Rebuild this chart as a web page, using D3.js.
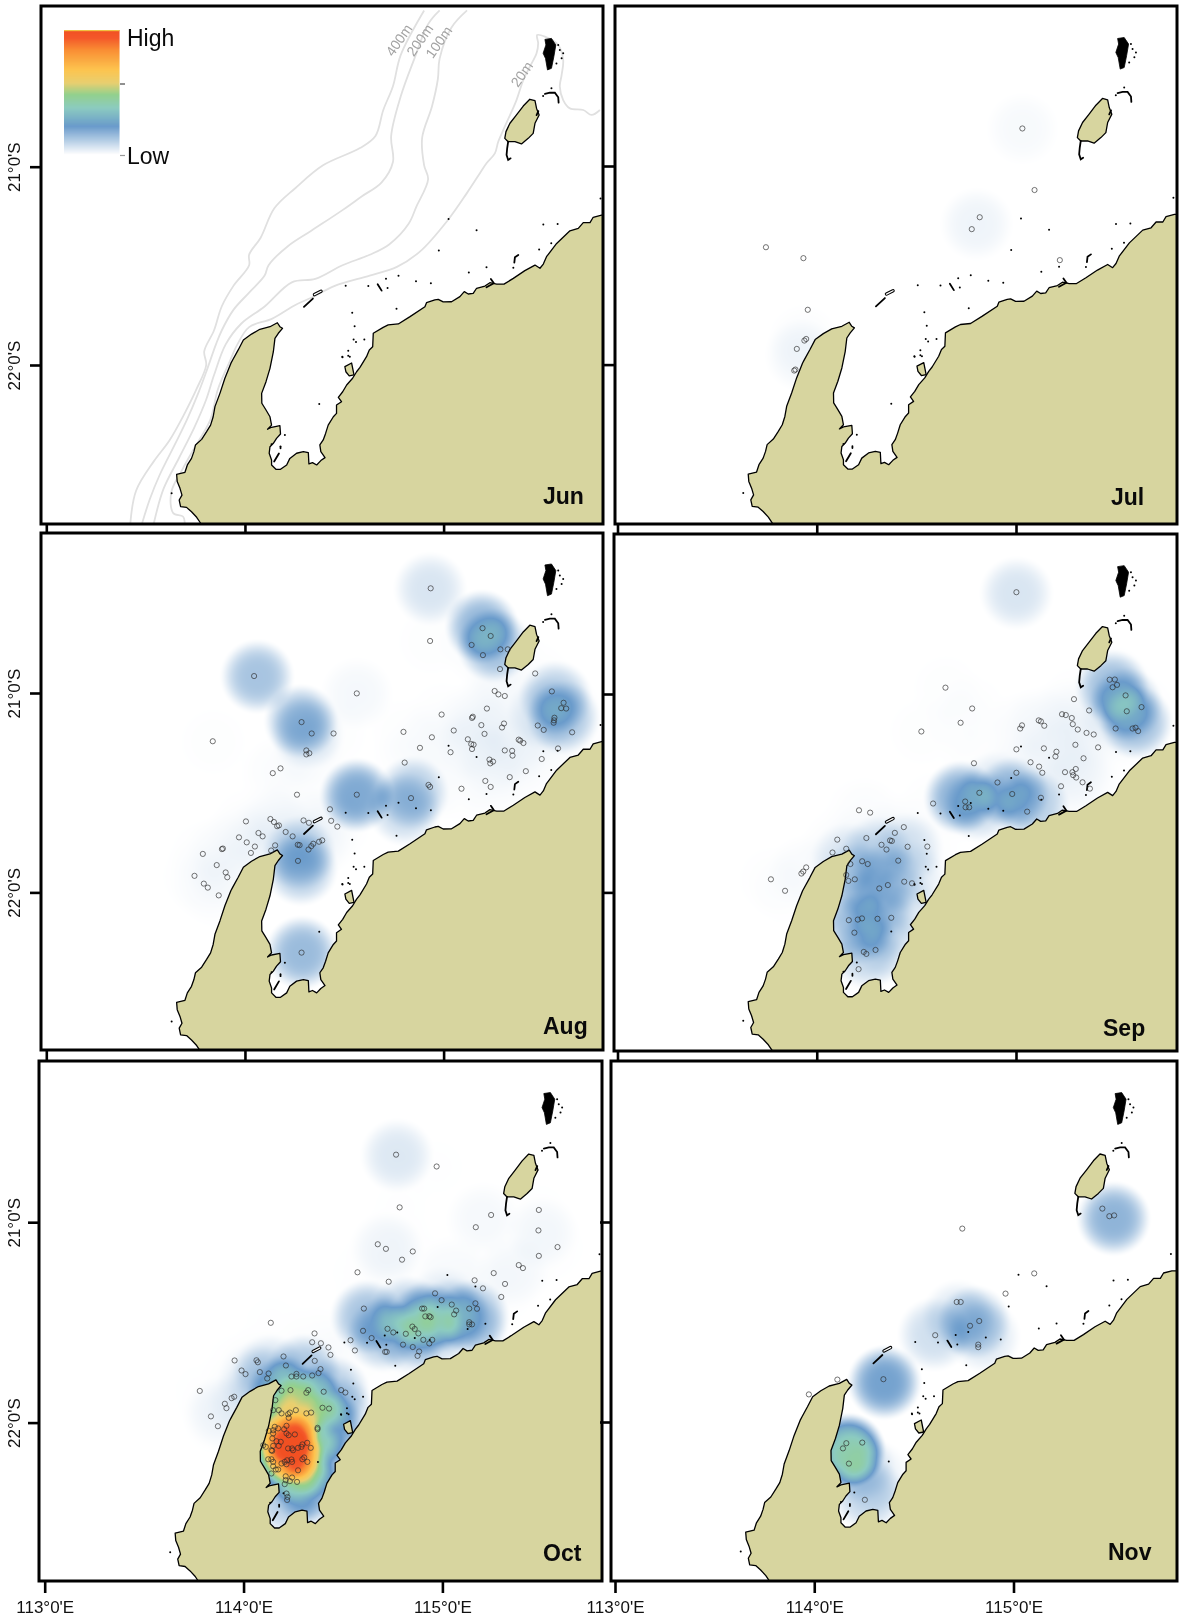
<!DOCTYPE html>
<html><head><meta charset="utf-8">
<script src="https://cdn.jsdelivr.net/npm/d3@7"></script>
<style>
html,body{margin:0;padding:0;background:#fff;}
#wrap{position:relative;width:1181px;height:1614px;overflow:hidden;}
canvas,svg{position:absolute;}
text{font-family:"Liberation Sans",Arial,sans-serif;}
</style></head><body><div id="wrap"></div>
<script>
// ---------- data (longitude °E, latitude °S) ----------
const months=["Jun","Jul","Aug","Sep","Oct","Nov"];
const lonTicks=[113,114,115];
const latTicks=[21,22];
const legendLabels=["High","Low"];
const mainland=[[113.777,23],[113.777,22.798],[113.757,22.768],[113.731,22.74],[113.706,22.718],[113.676,22.714],[113.669,22.681],[113.683,22.656],[113.673,22.622],[113.659,22.588],[113.656,22.551],[113.698,22.541],[113.71,22.504],[113.731,22.471],[113.743,22.437],[113.751,22.403],[113.782,22.375],[113.807,22.336],[113.827,22.303],[113.84,22.261],[113.849,22.21],[113.874,22.143],[113.899,22.067],[113.929,21.992],[113.938,21.975],[113.966,21.924],[113.992,21.874],[114.033,21.844],[114.075,21.82],[114.126,21.807],[114.163,21.787],[114.176,21.807],[114.189,21.815],[114.168,21.84],[114.151,21.866],[114.143,21.933],[114.126,22.017],[114.106,22.084],[114.084,22.143],[114.085,22.193],[114.106,22.227],[114.126,22.261],[114.134,22.303],[114.114,22.324],[114.134,22.314],[114.176,22.306],[114.179,22.348],[114.159,22.37],[114.143,22.395],[114.126,22.412],[114.122,22.445],[114.134,22.479],[114.134,22.504],[114.156,22.526],[114.179,22.526],[114.21,22.504],[114.226,22.471],[114.26,22.445],[114.294,22.437],[114.319,22.442],[114.322,22.499],[114.34,22.492],[114.361,22.504],[114.382,22.482],[114.403,22.467],[114.382,22.437],[114.377,22.403],[114.394,22.378],[114.406,22.345],[114.419,22.303],[114.445,22.261],[114.461,22.244],[114.461,22.202],[114.486,22.185],[114.47,22.163],[114.492,22.135],[114.512,22.101],[114.542,22.067],[114.562,22.034],[114.579,22.012],[114.612,21.958],[114.626,21.924],[114.643,21.908],[114.646,21.84],[114.696,21.81],[114.721,21.798],[114.772,21.793],[114.831,21.756],[114.906,21.706],[114.914,21.686],[114.956,21.672],[114.973,21.669],[114.998,21.682],[115.04,21.681],[115.082,21.655],[115.104,21.63],[115.124,21.642],[115.149,21.639],[115.166,21.613],[115.208,21.602],[115.233,21.585],[115.267,21.592],[115.304,21.592],[115.351,21.563],[115.409,21.524],[115.46,21.496],[115.485,21.512],[115.502,21.491],[115.518,21.454],[115.569,21.387],[115.636,21.323],[115.678,21.311],[115.703,21.282],[115.737,21.282],[115.753,21.255],[115.795,21.244],[116,21.244],[116,23]];
const barrowIsland=[[115.434,20.66],[115.46,20.667],[115.468,20.706],[115.481,20.739],[115.46,20.781],[115.451,20.832],[115.426,20.857],[115.392,20.885],[115.359,20.874],[115.325,20.874],[115.308,20.857],[115.314,20.823],[115.334,20.781],[115.367,20.739],[115.401,20.694]];
const peakIsland=[[114.503,22.008],[114.537,21.99],[114.549,22.05],[114.525,22.055],[114.508,22.034]];
const monteBello=[[115.51,20.358],[115.543,20.353],[115.565,20.386],[115.555,20.445],[115.543,20.504],[115.523,20.512],[115.513,20.454],[115.501,20.428],[115.515,20.386]];
const reefLines=[
 [[115.325,20.874],[115.32,20.907],[115.317,20.941],[115.325,20.966],[115.337,20.958]],
 [[115.51,20.633],[115.535,20.627],[115.56,20.627],[115.577,20.65],[115.579,20.677]],
 [[114.297,21.707],[114.342,21.665]],
 [[114.668,21.593],[114.688,21.625]],
 [[115.356,21.484],[115.359,21.457],[115.376,21.445]],
 [[115.238,21.566],[115.253,21.588],[115.216,21.608]],
 [[114.147,22.487],[114.171,22.446]],
 [[114.179,22.41],[114.179,22.42]],
 [[115.477,20.72],[115.468,20.74]]
];
const hollowReef=[[114.35,21.645],[114.383,21.628]];
const islets=[[115.025,21.264],[115.166,21.321],[114.976,21.423],[115.216,21.507],[115.127,21.533],[114.773,21.55],[114.71,21.565],[114.861,21.578],[114.936,21.588],[114.621,21.602],[114.507,21.6],[114.718,21.612],[114.763,21.716],[114.54,21.736],[114.552,21.805],[114.547,21.871],[114.559,21.884],[114.601,21.871],[114.49,21.958],[114.52,21.928],[114.52,21.953],[115.502,21.292],[115.574,21.289],[115.542,21.386],[115.481,21.417],[115.351,21.509],[114.491,21.961],[114.528,21.958],[114.374,22.197],[114.201,22.353],[114.134,22.4],[113.631,22.647],[115.577,20.386],[115.585,20.411],[115.602,20.428],[115.568,20.479],[115.594,20.453],[115.501,20.644],[115.543,20.605],[115.79,21.16]];
const contour400=[[114.902,20.212],[114.784,20.437],[114.745,20.594],[114.696,20.715],[114.657,20.845],[114.579,20.906],[114.393,20.993],[114.256,21.106],[114.148,21.21],[114.079,21.358],[114.021,21.444],[114.021,21.497],[113.942,21.601],[113.883,21.705],[113.844,21.826],[113.795,21.931],[113.805,22],[113.756,22.122],[113.688,22.26],[113.619,22.382],[113.541,22.486],[113.452,22.634],[113.423,22.799]];
const contour200=[[114.98,20.212],[114.922,20.281],[114.853,20.455],[114.784,20.646],[114.736,20.845],[114.745,20.976],[114.687,21.08],[114.589,21.149],[114.491,21.219],[114.334,21.323],[114.216,21.401],[114.119,21.497],[114.099,21.549],[114.021,21.635],[113.942,21.722],[113.883,21.826],[113.854,21.896],[113.805,22.035],[113.766,22.139],[113.707,22.278],[113.648,22.399],[113.57,22.556],[113.521,22.677],[113.482,22.799]];
const contour100=[[115.118,20.212],[115.039,20.299],[114.98,20.455],[114.971,20.559],[114.941,20.698],[114.892,20.854],[114.902,20.993],[114.922,21.063],[114.863,21.201],[114.824,21.288],[114.726,21.392],[114.628,21.444],[114.491,21.497],[114.354,21.566],[114.236,21.583],[114.099,21.705],[113.981,21.792],[113.903,21.896],[113.844,22.052],[113.805,22.174],[113.746,22.313],[113.668,22.469],[113.59,22.625],[113.541,22.799]];
const contour20=[[115.787,20.714],[115.745,20.739],[115.703,20.714],[115.636,20.706],[115.602,20.664],[115.585,20.596],[115.594,20.538],[115.602,20.462],[115.577,20.386],[115.51,20.344],[115.471,20.336],[115.476,20.378],[115.468,20.428],[115.434,20.496],[115.401,20.563],[115.367,20.664],[115.308,20.798],[115.275,20.874],[115.258,20.933],[115.216,20.983],[115.186,21.028],[115.118,21.132],[115.02,21.271],[114.882,21.427],[114.765,21.505],[114.628,21.549],[114.452,21.601],[114.334,21.661],[114.256,21.696],[114.138,21.766],[114.021,21.809],[113.962,21.896],[113.923,21.983],[113.864,22.122],[113.825,22.278],[113.746,22.417],[113.688,22.521],[113.629,22.642],[113.639,22.747],[113.688,22.764],[113.697,22.799]];
const contourLabels=[["400m",114.775,20.361],["200m",114.88,20.361],["100m",114.976,20.371],["20m",115.394,20.533]];
const pointsJul=[[115.032,20.811],[115.093,21.121],[114.818,21.258],[114.778,21.318],[113.745,21.409],[113.933,21.464],[113.955,21.724],[113.947,21.871],[113.938,21.879],[113.9,21.921],[113.887,22.03],[113.893,22.025],[115.22,21.474]];
const pointsAug=[[114.935,20.475],[114.932,20.739],[115.196,20.675],[115.237,20.714],[115.141,20.759],[115.198,20.81],[115.286,20.781],[115.323,20.781],[115.284,20.88],[115.461,20.902],[114.046,20.915],[114.563,21.002],[115.257,20.99],[115.276,21.007],[115.308,21.015],[115.545,20.992],[115.604,21.049],[115.592,21.076],[115.617,21.078],[115.218,21.078],[114.99,21.108],[115.147,21.119],[115.143,21.125],[114.285,21.146],[115.558,21.124],[115.556,21.137],[115.554,21.149],[115.304,21.153],[115.294,21.173],[115.19,21.161],[115.474,21.163],[115.504,21.185],[115.647,21.197],[115.051,21.188],[115.206,21.205],[114.336,21.203],[114.446,21.203],[114.798,21.195],[113.838,21.242],[114.941,21.222],[115.122,21.232],[115.378,21.234],[115.386,21.239],[115.402,21.251],[115.151,21.259],[115.139,21.256],[115.143,21.281],[114.881,21.275],[115.035,21.297],[115.308,21.288],[115.345,21.29],[115.347,21.314],[115.576,21.278],[114.309,21.288],[114.324,21.302],[114.309,21.308],[115.494,21.331],[115.231,21.334],[115.249,21.344],[115.235,21.353],[114.804,21.349],[114.179,21.378],[114.14,21.402],[115.414,21.392],[115.333,21.422],[115.21,21.441],[115.237,21.471],[114.924,21.461],[114.932,21.471],[115.09,21.48],[114.262,21.51],[114.563,21.51],[114.836,21.527],[114.428,21.583],[114.005,21.644],[114.128,21.632],[114.146,21.647],[114.162,21.668],[114.171,21.664],[114.295,21.639],[114.322,21.651],[114.434,21.641],[114.465,21.67],[114.205,21.697],[114.068,21.702],[114.089,21.719],[114.24,21.719],[113.97,21.724],[114.009,21.749],[114.05,21.77],[114.152,21.764],[114.266,21.761],[114.275,21.763],[114.344,21.756],[114.373,21.746],[114.389,21.739],[114.32,21.785],[114.334,21.768],[114.132,21.79],[114.03,21.802],[113.889,21.78],[113.884,21.783],[113.788,21.807],[114.267,21.842],[113.858,21.863],[113.903,21.9],[113.911,21.924],[113.746,21.917],[113.793,21.956],[113.813,21.976],[113.868,22.015],[114.285,22.302]];
const pointsSep=[[115.002,20.487],[114.646,20.968],[114.78,21.073],[114.722,21.145],[114.525,21.189],[115.291,21.026],[115.367,21.083],[115.47,20.928],[115.496,20.927],[115.507,20.954],[115.485,20.966],[115.55,21.007],[115.63,21.066],[115.556,21.087],[115.5,21.174],[115.585,21.174],[115.6,21.17],[115.613,21.187],[115.231,21.102],[115.25,21.106],[115.28,21.121],[115.285,21.152],[115.31,21.179],[115.354,21.196],[115.39,21.204],[115.114,21.133],[115.125,21.138],[115.142,21.16],[115.03,21.158],[115.021,21.174],[115.298,21.256],[115.412,21.269],[115.002,21.279],[115.14,21.274],[115.203,21.291],[115.198,21.315],[115.339,21.324],[114.789,21.349],[115.073,21.344],[115.116,21.366],[115.132,21.397],[115.002,21.397],[115.246,21.394],[115.283,21.394],[115.3,21.378],[115.287,21.409],[115.302,21.421],[115.334,21.445],[115.226,21.465],[115.371,21.477],[114.907,21.446],[114.816,21.498],[114.981,21.504],[115.125,21.523],[114.584,21.552],[114.745,21.542],[114.747,21.571],[114.765,21.571],[115.056,21.593],[114.212,21.586],[114.268,21.598],[114.437,21.671],[114.392,21.7],[114.249,21.726],[114.103,21.734],[114.368,21.738],[114.377,21.741],[114.325,21.76],[114.35,21.784],[114.456,21.77],[114.555,21.769],[114.079,21.799],[114.148,21.78],[114.409,21.84],[114.228,21.843],[114.256,21.857],[114.169,21.857],[113.947,21.874],[113.932,21.895],[113.923,21.905],[114.148,21.912],[114.191,21.934],[114.159,21.942],[113.77,21.934],[113.841,21.992],[114.439,21.946],[114.478,21.954],[114.357,21.963],[114.314,21.98],[114.161,22.14],[114.206,22.137],[114.227,22.131],[114.305,22.133],[114.374,22.128],[114.189,22.203],[114.236,22.3],[114.249,22.31],[114.295,22.29],[114.21,22.387]];
const pointsOct=[[113.953,21.871],[114.191,21.841],[114.236,21.838],[114.325,21.838],[114.316,21.851],[114.403,21.846],[114.16,21.888],[114.149,21.938],[114.177,21.938],[114.191,21.954],[114.233,21.95],[114.224,21.958],[114.263,21.938],[114.227,21.976],[114.316,21.954],[114.34,21.95],[114.397,21.926],[114.43,21.93],[114.372,22.026],[114.372,22.033],[114.149,22.038],[114.127,22.041],[114.216,22.016],[114.204,22.033],[114.174,22.029],[114.157,22.021],[114.149,22.054],[114.216,22.054],[114.227,22.063],[114.258,22.059],[114.145,22.079],[114.099,22.113],[114.112,22.121],[114.166,22.093],[114.187,22.096],[114.177,22.116],[114.149,22.116],[114.14,22.138],[114.144,22.141],[114.224,22.129],[114.249,22.138],[114.274,22.126],[114.291,22.121],[114.296,22.109],[114.32,22.101],[114.338,22.126],[114.244,22.129],[114.124,22.183],[114.14,22.183],[114.149,22.196],[114.149,22.218],[114.162,22.234],[114.174,22.234],[114.191,22.204],[114.207,22.196],[114.219,22.188],[114.241,22.184],[114.244,22.196],[114.216,22.208],[114.296,22.183],[114.305,22.174],[114.321,22.196],[114.274,22.238],[114.14,22.254],[114.212,22.268],[114.244,22.274],[114.212,22.287],[114.233,22.292],[114.269,22.296],[114.207,22.307],[114.216,22.354],[114.221,22.371],[114.219,22.386],[114.767,20.663],[114.971,20.722],[114.785,20.926],[115.245,20.964],[115.168,21.025],[115.485,20.939],[115.483,21.041],[115.579,21.124],[115.485,21.168],[114.675,21.11],[114.716,21.133],[114.851,21.146],[114.797,21.187],[114.573,21.25],[114.73,21.297],[115.384,21.214],[115.405,21.229],[115.258,21.254],[115.162,21.29],[115.315,21.308],[115.204,21.33],[115.296,21.373],[114.963,21.355],[114.996,21.389],[114.605,21.431],[114.898,21.431],[114.908,21.431],[115.047,21.411],[115.069,21.441],[115.059,21.46],[115.135,21.431],[115.174,21.432],[115.166,21.405],[114.914,21.47],[114.934,21.469],[114.941,21.474],[115.135,21.499],[115.135,21.51],[115.149,21.51],[114.849,21.521],[114.861,21.533],[114.879,21.555],[114.816,21.557],[114.724,21.532],[114.753,21.55],[114.601,21.542],[114.538,21.589],[114.644,21.578],[114.56,21.64],[114.712,21.647],[114.72,21.647],[114.802,21.611],[114.851,21.623],[114.904,21.587],[114.949,21.587],[114.934,21.605],[114.883,21.645],[114.875,21.667],[114.137,21.502],[114.357,21.555],[114.345,21.599],[114.389,21.604],[114.427,21.625],[114.437,21.662],[114.201,21.67],[114.358,21.692],[113.955,21.69],[114.065,21.689],[114.072,21.699],[114.213,21.715],[114.387,21.733],[114.377,21.753],[114.345,21.765],[113.99,21.74],[114.01,21.758],[114.082,21.748],[114.126,21.755],[114.119,21.78],[114.241,21.77],[114.266,21.757],[114.266,21.77],[114.3,21.77],[113.78,21.842],[113.94,21.878],[114.491,21.838],[114.512,21.85],[113.906,21.906],[113.914,21.928],[113.836,21.969],[113.871,22.018]];
const pointsNov=[[114.743,21.033],[115.446,20.933],[115.481,20.971],[115.505,20.967],[115.104,21.257],[114.96,21.358],[114.715,21.4],[114.735,21.4],[114.782,21.519],[114.828,21.495],[114.607,21.566],[114.823,21.613],[114.823,21.626],[114.347,21.786],[114.116,21.788],[113.973,21.862],[114.161,22.106],[114.144,22.132],[114.241,22.103],[114.174,22.208],[114.254,22.389]];
// density hot spots read from the surfaces: lon, lat, intensity
const densityJul=[[115.03,20.81,.012],[114.8,21.29,.024],[113.92,21.95,.02],[113.93,21.87,.006]];
const densityAug=[[115.19,20.665,.16],[115.25,20.76,.13],[115.56,21.02,.1],[115.6,21.12,.11],[115.5,21.1,.04],[114.06,20.915,.13],[114.28,21.14,.14],[114.31,21.2,.05],[114.56,21.51,.19],[114.84,21.5,.1],[114.8,21.58,.08],[114.27,21.8,.09],[114.28,21.88,.11],[114.285,22.3,.15],[114.93,20.475,.055],[114.56,21,.012]];
const densitySep=[[115.48,20.96,.13],[115.55,21.05,.11],[115.6,21.14,.13],[115.5,21.1,.02],[114.72,21.52,.17],[114.82,21.56,.07],[114.98,21.5,.12],[115.08,21.56,.1],[114.9,21.47,.04],[115,20.49,.055],[114.15,21.83,.045],[114.3,21.8,.06],[114.45,21.78,.05],[114.2,21.93,.055],[114.35,21.93,.055],[114.47,21.92,.035],[114.15,22.05,.055],[114.3,22.05,.06],[114.42,22.05,.045],[114.2,22.18,.09],[114.33,22.17,.055],[114.25,22.3,.075],[114.38,22.28,.03]];
const densityOct=[[114.215,22.13,.42],[114.2,22.03,.22],[114.25,22.22,.2],[114.15,22.13,.12],[114.3,22.12,.12],[114.23,21.95,.15],[114.33,21.9,.15],[114.2,21.85,.14],[114.42,22.02,.17],[114.38,22.2,.15],[114.33,22.33,.15],[114.22,22.38,.1],[114.45,21.85,.1],[114.3,21.74,.11],[114.13,21.74,.06],[114.1,21.8,.04],[114.48,21.95,.07],[114.62,21.47,.13],[114.7,21.56,.1],[114.82,21.45,.1],[114.92,21.48,.15],[114.93,21.56,.08],[114.83,21.57,.08],[115.05,21.46,.1],[115.15,21.47,.13],[115.15,21.55,.04],[115,21.4,.03],[114.77,20.665,.05],[114.72,21.13,.02],[115.2,20.98,.012],[115.5,21.05,.015],[115.35,21.25,.012],[114,21.9,.02],[113.88,21.95,.02],[114.05,21.78,.03],[115.05,21.25,.01]];
const densityNov=[[115.5,20.98,.17],[114.17,22.14,.37],[114.22,22.22,.05],[114.27,22.36,.09],[114.3,22.27,.03],[114.35,21.8,.21],[114.6,21.56,.07],[114.8,21.5,.11],[114.72,21.47,.05],[114.85,21.57,.05]];
const pointWeights=[0,0,.003,.003,.0012,0];
const rampStops=[0,.227,.373,.48,.573,.68,.84,.933,1];
const rampColors=['#ffffff','#6a9bcb','#8ccbc0','#93d08d','#e8cf70','#fdc44f','#f98d34','#f4582a','#f15022'];

// ---------- layout ----------
const layout=[
 {x:41,y:6,w:562,h:518,lon:[46.3,443.6],lat:[166.7,365],labX:543,labY:504,tb:8},
 {x:615,y:6,w:562,h:518,lon:[617.5,1016],lat:[166,364.6],labX:1111,labY:505,tb:9},
 {x:41,y:533,w:562,h:517,lon:[46.3,443.6],lat:[693,892.4],labX:543,labY:1034,tb:10},
 {x:614,y:534,w:563,h:517,lon:[617.5,1016],lat:[694,892.4],labX:1103,labY:1036,tb:10},
 {x:39,y:1061,w:563,h:520,lon:[44.7,442.4],lat:[1222.2,1422.6],labX:543,labY:1561,tb:12},
 {x:611,y:1061,w:566,h:520,lon:[615,1013.5],lat:[1222,1422],labX:1108,labY:1560,tb:12}
];
const allPoints=[[],pointsJul,pointsAug,pointsSep,pointsOct,pointsNov];
const allDensity=[[],densityJul,densityAug,densitySep,densityOct,densityNov];
const bandwidth=.195;

const ramp=d3.scaleLinear().domain(rampStops).range(rampColors).interpolate(d3.interpolateRgb).clamp(true);
const wrap=d3.select('#wrap');

layout.forEach((p,i)=>{
  const lonPx=d3.scaleLinear().domain([113,115]).range(p.lon);
  const y=d3.scaleLinear().domain([21,22]).range(p.lat);
  const cv=wrap.append('canvas').attr('width',p.w).attr('height',p.h)
    .style('left',p.x+'px').style('top',p.y+'px').node();
  const field=new Float32Array(p.w*p.h);
  const rx=Math.abs(lonPx(bandwidth+113)-lonPx(113)), ry=Math.abs(y(21+bandwidth)-y(21));
  const splat=(lo,la,v)=>{
    const cx=lonPx(lo)-p.x, cy=y(la)-p.y;
    for(let yy=Math.max(0,Math.floor(cy-ry));yy<=Math.min(p.h-1,Math.ceil(cy+ry));yy++)
      for(let xx=Math.max(0,Math.floor(cx-rx));xx<=Math.min(p.w-1,Math.ceil(cx+rx));xx++){
        const d=((xx-cx)/rx)**2+((yy-cy)/ry)**2;
        if(d<1){ const t=1-d; field[yy*p.w+xx]+=v*t*t*(3-2*t); }
      }
  };
  allDensity[i].forEach(d=>splat(d[0],d[1],d[2]));
  if(pointWeights[i]>0) allPoints[i].forEach(d=>splat(d[0],d[1],pointWeights[i]));
  const ctx=cv.getContext('2d');
  const img=ctx.createImageData(p.w,p.h);
  for(let k=0;k<field.length;k++){
    const c=d3.rgb(ramp(field[k]));
    img.data[k*4]=c.r;img.data[k*4+1]=c.g;img.data[k*4+2]=c.b;img.data[k*4+3]=255;
  }
  ctx.putImageData(img,0,0);
});

const svg=wrap.append('svg').attr('width',1181).attr('height',1614).style('left',0).style('top',0);
const defs=svg.append('defs');

layout.forEach((p,i)=>{
  const xs=d3.scaleLinear().domain([113,115]).range(p.lon);
  const ys=d3.scaleLinear().domain([21,22]).range(p.lat);
  const line=d3.line().x(d=>xs(d[0])).y(d=>ys(d[1]));
  const smooth=d3.line().x(d=>xs(d[0])).y(d=>ys(d[1])).curve(d3.curveCatmullRom.alpha(.5));
  defs.append('clipPath').attr('id','c'+i).append('rect').attr('x',p.x).attr('y',p.y).attr('width',p.w).attr('height',p.h);
  const g=svg.append('g').attr('clip-path',`url(#c${i})`);

  if(i===0){
    g.selectAll('path.ct').data([contour400,contour200,contour100,contour20]).join('path')
      .attr('d',smooth).attr('fill','none').attr('stroke','#e0e0e0').attr('stroke-width',1.8);
    g.selectAll('text.cl').data(contourLabels).join('text')
      .attr('transform',d=>`translate(${xs(d[1])},${ys(d[2])}) rotate(-55)`)
      .attr('text-anchor','middle').attr('dy','.35em').attr('font-size',14).attr('fill','#a3a3a3').text(d=>d[0]);
  }
  g.selectAll('path.land').data([mainland,barrowIsland,peakIsland]).join('path')
    .attr('d',d=>line(d)+'Z').attr('fill','#d7d59f').attr('stroke','#000').attr('stroke-width',1.3).attr('stroke-linejoin','round');
  g.append('path').attr('d',line(monteBello)+'Z').attr('fill','#000').attr('stroke','#000').attr('stroke-width',.8);
  g.selectAll('path.reef').data(reefLines).join('path').attr('d',line).attr('fill','none').attr('stroke','#000').attr('stroke-width',1.8).attr('stroke-linecap','round');
  g.append('path').attr('d',line(hollowReef)).attr('fill','none').attr('stroke','#000').attr('stroke-width',3.4).attr('stroke-linecap','round');
  g.append('path').attr('d',line(hollowReef)).attr('fill','none').attr('stroke','#fff').attr('stroke-width',1.3).attr('stroke-linecap','round');
  g.selectAll('circle.islet').data(islets).join('circle').attr('cx',d=>xs(d[0])).attr('cy',d=>ys(d[1])).attr('r',1).attr('fill','#000');

  g.selectAll('circle.pt').data(allPoints[i]).join('circle')
    .attr('cx',d=>xs(d[0])).attr('cy',d=>ys(d[1])).attr('r',2.6)
    .attr('fill','none').attr('stroke','#2a2a2a').attr('stroke-width',.65);

  svg.append('rect').attr('x',p.x).attr('y',p.y).attr('width',p.w).attr('height',p.h)
    .attr('fill','none').attr('stroke','#000').attr('stroke-width',3);

  const ax=svg.append('g').attr('transform',`translate(0,${p.y+p.h})`)
    .call(d3.axisBottom(xs).tickValues(lonTicks).tickSize(p.tb).tickFormat(d=>i>=4?`${d}°0'E`:''));
  ax.select('.domain').remove();
  ax.selectAll('line').attr('stroke','#000').attr('stroke-width',2.6);
  ax.selectAll('text').attr('y',null).attr('dy',null).attr('transform',`translate(0,${1613-(p.y+p.h)})`).attr('font-size',17).attr('fill','#111').attr('font-family','"Liberation Sans",Arial,sans-serif');
  const ay=svg.append('g').attr('transform',`translate(${p.x},0)`)
    .call(d3.axisLeft(ys).tickValues(latTicks).tickSize(11).tickFormat(d=>i%2===0?`${d}°0'S`:''));
  ay.select('.domain').remove();
  ay.selectAll('line').attr('stroke','#000').attr('stroke-width',2.6);
  ay.selectAll('text').attr('x',null).attr('dy',null).attr('text-anchor','middle').attr('transform',`translate(${20-p.x},0) rotate(-90)`).attr('font-size',17).attr('fill','#111').attr('font-family','"Liberation Sans",Arial,sans-serif');

  svg.append('text').attr('x',p.labX).attr('y',p.labY).attr('font-size',23).attr('font-weight','bold').attr('fill','#0a0a0a').text(months[i]);
});

// legend
const legend=svg.append('g');
const legY=d3.scaleLinear().domain([0,1]).range([155,30]);
legend.selectAll('rect').data(d3.range(0,1,1/125)).join('rect')
  .attr('x',64).attr('width',55.5).attr('y',d=>legY(d)-1).attr('height',1.2).attr('fill',d=>ramp(d));
legend.append('rect').attr('x',64).attr('y',30).attr('width',55.5).attr('height',1.2).attr('fill','#f0c040');
legend.append('line').attr('x1',120).attr('x2',125).attr('y1',84).attr('y2',84).attr('stroke','#222').attr('stroke-width',1);
legend.append('line').attr('x1',120).attr('x2',125).attr('y1',155.5).attr('y2',155.5).attr('stroke','#999').attr('stroke-width',1.2);
legend.selectAll('text').data(legendLabels).join('text').attr('x',127).attr('y',(d,i)=>i?164:46).attr('font-size',23).attr('fill','#0a0a0a').text(d=>d);
</script></body></html>
